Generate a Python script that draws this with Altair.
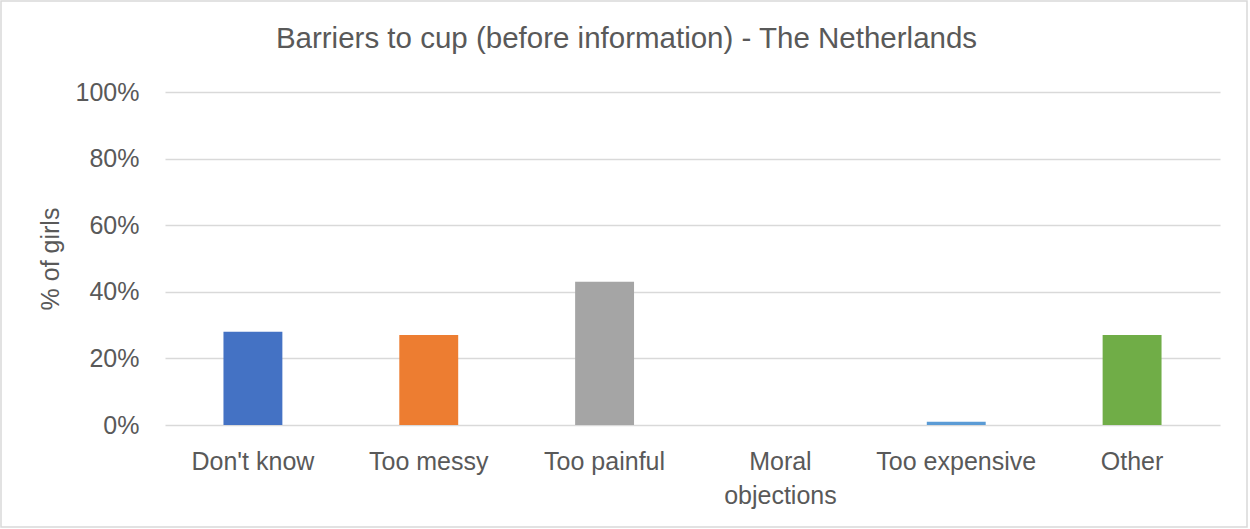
import altair as alt
import pandas as pd

categories = ["Don't know", "Too messy", "Too painful", "Moral objections", "Too expensive", "Other"]
values = [0.28, 0.27, 0.43, 0.0, 0.01, 0.27]
colors = ["#4472C4", "#ED7D31", "#A5A5A5", "#FFC000", "#5B9BD5", "#70AD47"]
y_ticks = [0, 0.2, 0.4, 0.6, 0.8, 1.0]

df = pd.DataFrame({"category": categories, "value": values})

FONT = "Liberation Sans"
TXT = "#595959"

bars = alt.Chart(df).mark_bar().encode(
    x=alt.X(
        "category:N",
        sort=categories,
        scale=alt.Scale(paddingInner=0.665, paddingOuter=0.3325),
        axis=alt.Axis(
            title=None,
            labelAngle=0,
            domain=False,
            ticks=False,
            labelPadding=24,
            labelFontSize=25,
            labelLineHeight=34,
            labelExpr="datum.label == 'Moral objections' ? ['Moral', 'objections'] : datum.label",
        ),
    ),
    y=alt.Y(
        "value:Q",
        scale=alt.Scale(domain=[0, 1], nice=False),
        axis=alt.Axis(
            title="% of girls",
            values=y_ticks,
            format=".0%",
            domain=False,
            ticks=False,
            labelPadding=26,
            labelFontSize=25,
            titleFontSize=25,
            titleFontWeight="normal",
            titlePadding=12,
            gridColor="#D9D9D9",
            gridWidth=1.5,
        ),
    ),
    color=alt.Color(
        "category:N",
        sort=categories,
        scale=alt.Scale(domain=categories, range=colors),
        legend=None,
    ),
)

border = alt.Chart(alt.Data(values=[{}])).mark_rect(
    fill=None, stroke="#D9D9D9", strokeWidth=1.5
).encode(
    x=alt.value(-164), x2=alt.value(1082), y=alt.value(-91), y2=alt.value(435)
)

chart = alt.layer(border, bars).properties(
    width=1055,
    height=333,
    autosize=alt.AutoSizeParams(type="none"),
    padding={"left": 165, "top": 92, "right": 30, "bottom": 104},
    title=alt.TitleParams(
        "Barriers to cup (before information) - The Netherlands",
        fontSize=29.5,
        fontWeight="normal",
        color=TXT,
        font=FONT,
        anchor="middle",
        frame="group",
        baseline="alphabetic",
        dx=-66,
        offset=-77,
    ),
).configure(
    font=FONT,
    background="white",
).configure_axis(
    labelColor=TXT,
    titleColor=TXT,
    labelFont=FONT,
    titleFont=FONT,
).configure_view(
    stroke=None
)

chart.save("out.html", embed_options={"renderer": "svg", "actions": False})
